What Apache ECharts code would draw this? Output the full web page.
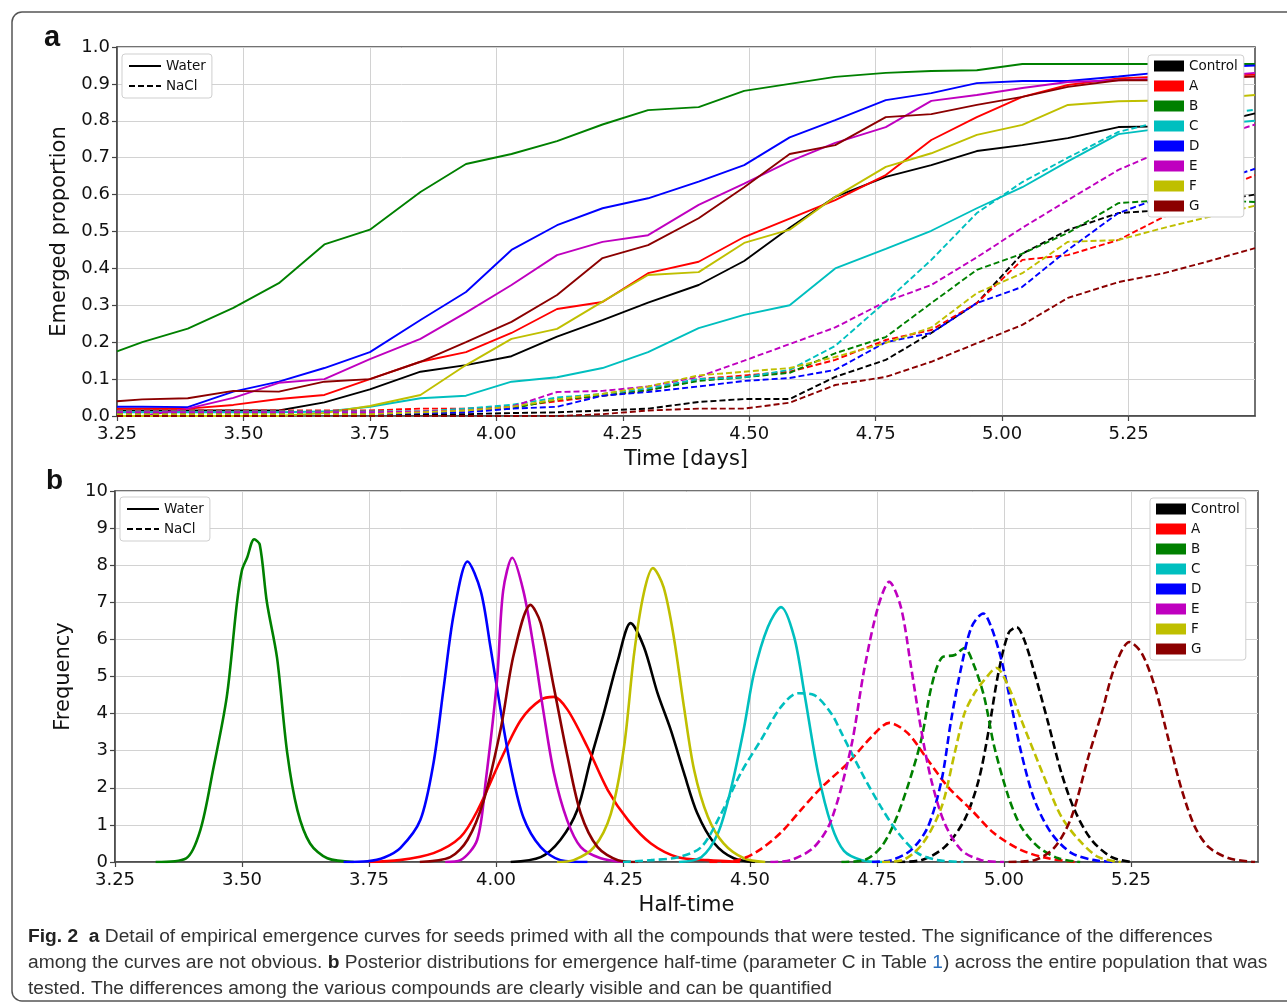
<!DOCTYPE html>
<html>
<head>
<meta charset="utf-8">
<script src="https://cdn.jsdelivr.net/npm/echarts@6/dist/echarts.min.js"></script>
<style>
html,body{margin:0;padding:0;background:#fff;}
#c{width:1287px;height:1004px;}
</style>
</head>
<body>
<div id="c"></div>
<script>
// ---------- shared ----------
const groupNames = ['Control', 'A', 'B', 'C', 'D', 'E', 'F', 'G'];
const groupColors = ['#000000', '#ff0000', '#008000', '#00bfbf', '#0000ff', '#bf00bf', '#bfbf00', '#8b0000'];
const xTicks = [3.25, 3.50, 3.75, 4.00, 4.25, 4.50, 4.75, 5.00, 5.25];

// ---------- panel a : empirical emergence curves ----------
const timeDays = [3.25, 3.30, 3.39, 3.48, 3.57, 3.66, 3.75, 3.85, 3.94, 4.03, 4.12, 4.21, 4.30, 4.40, 4.49, 4.58, 4.67, 4.77, 4.86, 4.95, 5.04, 5.13, 5.23, 5.32, 5.41, 5.50];

const emergedWaterControl = [0.015, 0.015, 0.015, 0.015, 0.015, 0.037, 0.072, 0.12, 0.138, 0.162, 0.215, 0.26, 0.307, 0.355, 0.42, 0.51, 0.594, 0.648, 0.68, 0.718, 0.734, 0.753, 0.783, 0.785, 0.79, 0.82];
const emergedWaterA = [0.02, 0.02, 0.02, 0.03, 0.046, 0.057, 0.10, 0.147, 0.173, 0.225, 0.29, 0.309, 0.387, 0.418, 0.485, 0.535, 0.585, 0.653, 0.748, 0.81, 0.865, 0.897, 0.915, 0.92, 0.92, 0.925];
const emergedWaterB = [0.175, 0.20, 0.237, 0.293, 0.36, 0.465, 0.505, 0.607, 0.683, 0.71, 0.745, 0.79, 0.829, 0.837, 0.881, 0.90, 0.919, 0.93, 0.935, 0.937, 0.954, 0.954, 0.954, 0.954, 0.954, 0.954];
const emergedWaterC = [0.01, 0.01, 0.01, 0.01, 0.01, 0.012, 0.025, 0.048, 0.055, 0.093, 0.105, 0.13, 0.173, 0.238, 0.274, 0.30, 0.40, 0.453, 0.502, 0.563, 0.62, 0.69, 0.764, 0.78, 0.79, 0.80];
const emergedWaterD = [0.025, 0.025, 0.024, 0.066, 0.093, 0.13, 0.173, 0.26, 0.336, 0.45, 0.517, 0.563, 0.59, 0.635, 0.68, 0.755, 0.802, 0.856, 0.875, 0.902, 0.908, 0.908, 0.92, 0.932, 0.945, 0.95];
const emergedWaterE = [0.0, 0.0, 0.02, 0.049, 0.09, 0.10, 0.154, 0.209, 0.28, 0.355, 0.436, 0.472, 0.49, 0.572, 0.63, 0.69, 0.74, 0.783, 0.854, 0.87, 0.889, 0.905, 0.91, 0.915, 0.92, 0.93];
const emergedWaterF = [0.0, 0.0, 0.0, 0.0, 0.0, 0.008, 0.027, 0.057, 0.138, 0.209, 0.236, 0.31, 0.382, 0.39, 0.469, 0.505, 0.594, 0.675, 0.712, 0.762, 0.789, 0.843, 0.853, 0.855, 0.86, 0.87];
const emergedWaterG = [0.04, 0.045, 0.048, 0.068, 0.066, 0.093, 0.10, 0.147, 0.20, 0.255, 0.328, 0.428, 0.463, 0.536, 0.62, 0.71, 0.734, 0.81, 0.818, 0.843, 0.865, 0.892, 0.91, 0.91, 0.915, 0.92];

const emergedNaClControl = [0.005, 0.005, 0.005, 0.005, 0.005, 0.005, 0.005, 0.005, 0.005, 0.008, 0.01, 0.015, 0.02, 0.038, 0.046, 0.046, 0.106, 0.152, 0.225, 0.306, 0.44, 0.504, 0.55, 0.558, 0.58, 0.60];
const emergedNaClA = [0.015, 0.015, 0.015, 0.015, 0.015, 0.015, 0.015, 0.02, 0.02, 0.025, 0.04, 0.055, 0.07, 0.10, 0.11, 0.12, 0.152, 0.206, 0.233, 0.306, 0.423, 0.436, 0.477, 0.54, 0.60, 0.653];
const emergedNaClB = [0.01, 0.01, 0.01, 0.01, 0.01, 0.01, 0.01, 0.012, 0.015, 0.02, 0.045, 0.055, 0.07, 0.095, 0.105, 0.117, 0.17, 0.214, 0.306, 0.396, 0.44, 0.496, 0.577, 0.585, 0.585, 0.58];
const emergedNaClC = [0.012, 0.012, 0.012, 0.012, 0.012, 0.012, 0.012, 0.012, 0.02, 0.03, 0.05, 0.06, 0.075, 0.10, 0.105, 0.125, 0.19, 0.31, 0.423, 0.55, 0.634, 0.70, 0.77, 0.80, 0.815, 0.83];
const emergedNaClD = [0.005, 0.005, 0.005, 0.005, 0.005, 0.005, 0.005, 0.008, 0.01, 0.02, 0.025, 0.055, 0.065, 0.08, 0.095, 0.103, 0.125, 0.20, 0.225, 0.306, 0.35, 0.45, 0.55, 0.595, 0.63, 0.67];
const emergedNaClE = [0.01, 0.01, 0.01, 0.01, 0.01, 0.01, 0.01, 0.012, 0.015, 0.025, 0.065, 0.068, 0.08, 0.106, 0.15, 0.195, 0.24, 0.31, 0.355, 0.43, 0.51, 0.585, 0.667, 0.72, 0.75, 0.79];
const emergedNaClF = [0.005, 0.005, 0.005, 0.005, 0.005, 0.005, 0.005, 0.01, 0.015, 0.025, 0.045, 0.06, 0.08, 0.11, 0.12, 0.13, 0.16, 0.198, 0.24, 0.333, 0.387, 0.472, 0.477, 0.51, 0.54, 0.57];
const emergedNaClG = [0.0, 0.0, 0.0, 0.0, 0.0, 0.0, 0.0, 0.0, 0.0, 0.0, 0.0, 0.005, 0.015, 0.02, 0.02, 0.036, 0.084, 0.106, 0.147, 0.197, 0.247, 0.32, 0.363, 0.387, 0.42, 0.455];

// ---------- panel b : posterior densities of half-time, [half-time, frequency] ----------
const halfWaterControl = [[4.029,0],[4.088,0.13],[4.127,0.6],[4.16,1.4],[4.186,2.75],[4.212,4.0],[4.24,5.44],[4.265,6.44],[4.291,5.8],[4.318,4.55],[4.344,3.56],[4.37,2.4],[4.396,1.32],[4.43,0.5],[4.468,0.1],[4.51,0]];
const halfWaterA = [[3.75,0],[3.81,0.05],[3.877,0.24],[3.93,0.67],[3.964,1.4],[4.009,2.75],[4.049,3.83],[4.088,4.37],[4.114,4.45],[4.141,4.1],[4.18,3.1],[4.22,1.94],[4.26,1.13],[4.305,0.5],[4.358,0.13],[4.417,0.05],[4.48,0]];
const halfWaterB = [[3.33,0],[3.39,0.1],[3.418,0.86],[3.443,2.48],[3.47,4.45],[3.49,6.98],[3.50,7.87],[3.51,8.2],[3.524,8.7],[3.535,8.55],[3.549,7.0],[3.569,5.5],[3.589,2.94],[3.609,1.4],[3.634,0.5],[3.668,0.1],[3.72,0]];
const halfWaterC = [[4.36,0],[4.404,0.13],[4.437,0.78],[4.463,2.0],[4.488,3.6],[4.508,5.1],[4.535,6.33],[4.561,6.87],[4.587,6.06],[4.607,4.55],[4.634,2.4],[4.66,1.0],[4.685,0.3],[4.72,0.05],[4.76,0]];
const halfWaterD = [[3.70,0],[3.747,0.02],[3.78,0.12],[3.812,0.38],[3.851,1.13],[3.877,2.67],[3.897,4.7],[3.917,6.7],[3.944,8.1],[3.97,7.3],[3.989,5.8],[4.009,4.1],[4.029,2.57],[4.054,1.2],[4.088,0.4],[4.127,0.05],[4.18,0]];
const halfWaterE = [[3.90,0],[3.93,0.05],[3.963,0.6],[3.98,2.2],[4.002,4.9],[4.014,7.3],[4.032,8.2],[4.054,7.3],[4.074,5.8],[4.094,4.0],[4.114,2.4],[4.14,1.13],[4.167,0.4],[4.206,0.1],[4.25,0]];
const halfWaterF = [[4.12,0],[4.153,0.05],[4.193,0.4],[4.226,1.3],[4.252,3.1],[4.272,5.63],[4.291,7.25],[4.309,7.92],[4.33,7.4],[4.35,6.06],[4.37,4.18],[4.39,2.48],[4.417,1.22],[4.448,0.5],[4.488,0.1],[4.53,0]];
const halfWaterG = [[3.85,0],[3.91,0.13],[3.944,0.6],[3.976,1.67],[4.01,3.64],[4.035,5.6],[4.068,6.93],[4.088,6.44],[4.114,4.7],[4.141,2.83],[4.167,1.3],[4.2,0.4],[4.24,0.05],[4.28,0]];

const halfNaClControl = [[4.79,0],[4.837,0.05],[4.883,0.4],[4.922,1.13],[4.95,2.2],[4.97,3.56],[4.989,5.1],[5.009,6.17],[5.025,6.33],[5.04,5.98],[5.06,5.1],[5.087,3.75],[5.113,2.4],[5.139,1.4],[5.172,0.6],[5.212,0.13],[5.25,0]];
const halfNaClA = [[4.42,0],[4.476,0.05],[4.516,0.3],[4.56,0.78],[4.6,1.4],[4.64,2.0],[4.693,2.67],[4.739,3.37],[4.774,3.75],[4.81,3.48],[4.85,2.75],[4.89,2.02],[4.936,1.4],[4.98,0.78],[5.034,0.32],[5.087,0.1],[5.14,0]];
const halfNaClB = [[4.68,0],[4.725,0.05],[4.758,0.4],[4.784,1.05],[4.81,2.02],[4.837,3.29],[4.857,4.72],[4.877,5.5],[4.903,5.58],[4.922,5.77],[4.942,5.26],[4.961,4.45],[4.981,3.1],[5.009,1.75],[5.034,0.94],[5.068,0.4],[5.107,0.1],[5.15,0]];
const halfNaClC = [[4.25,0],[4.305,0.05],[4.358,0.13],[4.404,0.4],[4.443,1.3],[4.482,2.4],[4.522,3.3],[4.561,4.18],[4.594,4.55],[4.626,4.5],[4.66,4.0],[4.68,3.48],[4.72,2.4],[4.758,1.48],[4.792,0.78],[4.83,0.24],[4.87,0.05],[4.92,0]];
const halfNaClD = [[4.74,0],[4.778,0.05],[4.817,0.32],[4.85,0.94],[4.877,2.2],[4.896,3.83],[4.916,5.26],[4.936,6.33],[4.959,6.7],[4.975,6.33],[4.995,5.44],[5.015,4.18],[5.034,2.94],[5.06,1.67],[5.093,0.78],[5.133,0.24],[5.178,0.05],[5.22,0]];
const halfNaClE = [[4.54,0],[4.58,0.05],[4.626,0.4],[4.66,1.13],[4.699,3.1],[4.725,5.2],[4.752,6.87],[4.774,7.55],[4.797,6.87],[4.817,5.26],[4.837,3.56],[4.857,2.2],[4.883,1.05],[4.916,0.32],[4.955,0.05],[5.0,0]];
const halfNaClF = [[4.76,0],[4.80,0.05],[4.84,0.5],[4.877,1.48],[4.903,2.94],[4.922,4.0],[4.942,4.55],[4.961,4.9],[4.985,5.23],[5.009,4.72],[5.034,3.83],[5.06,2.94],[5.087,2.02],[5.113,1.22],[5.147,0.6],[5.186,0.13],[5.23,0]];
const halfNaClG = [[5.009,0],[5.06,0.05],[5.1,0.4],[5.133,1.22],[5.166,2.83],[5.192,4.0],[5.218,5.26],[5.247,5.93],[5.271,5.63],[5.297,4.72],[5.324,3.29],[5.35,1.94],[5.376,0.94],[5.403,0.4],[5.443,0.1],[5.494,0]];

// ---------- build ----------
const emergedWater = [emergedWaterControl, emergedWaterA, emergedWaterB, emergedWaterC, emergedWaterD, emergedWaterE, emergedWaterF, emergedWaterG];
const emergedNaCl = [emergedNaClControl, emergedNaClA, emergedNaClB, emergedNaClC, emergedNaClD, emergedNaClE, emergedNaClF, emergedNaClG];
const halfWater = [halfWaterControl, halfWaterA, halfWaterB, halfWaterC, halfWaterD, halfWaterE, halfWaterF, halfWaterG];
const halfNaCl = [halfNaClControl, halfNaClA, halfNaClB, halfNaClC, halfNaClD, halfNaClE, halfNaClF, halfNaClG];

const FONT = 'DejaVu Sans';
const series = [];

function lineSeries(name, data, color, dashed, axisIdx, width, smooth, dash) {
  return {
    type: 'line', name: name, data: data,
    xAxisIndex: axisIdx, yAxisIndex: axisIdx,
    symbol: 'none', showSymbol: false,
    smooth: smooth,
    lineStyle: { color: color, width: width, type: dashed ? dash : 'solid' },
    itemStyle: { color: color },
    emphasis: { disabled: true },
    silent: true, animation: false
  };
}

groupNames.forEach((g, i) => {
  series.push(lineSeries(g, timeDays.map((t, k) => [t, emergedWater[i][k]]), groupColors[i], false, 0, 1.9, false));
});
groupNames.forEach((g, i) => {
  series.push(lineSeries(g + ' NaCl', timeDays.map((t, k) => [t, emergedNaCl[i][k]]), groupColors[i], true, 0, 1.9, false, [6, 3]));
});
groupNames.forEach((g, i) => {
  series.push(lineSeries(g + ' water b', halfWater[i], groupColors[i], false, 1, 2.6, 0.3));
});
groupNames.forEach((g, i) => {
  series.push(lineSeries(g + ' NaCl b', halfNaCl[i], groupColors[i], true, 1, 2.6, 0.3, [8, 4]));
});
// legend-only series for treatment line styles
series.push({ type: 'line', name: 'Water', data: [], xAxisIndex: 0, yAxisIndex: 0, symbol: 'none',
  lineStyle: { color: '#000', width: 2.2, type: 'solid' }, itemStyle: { color: 'rgba(0,0,0,0)' } });
series.push({ type: 'line', name: 'NaCl', data: [], xAxisIndex: 0, yAxisIndex: 0, symbol: 'none',
  lineStyle: { color: '#000', width: 2.2, type: [6, 3] }, itemStyle: { color: 'rgba(0,0,0,0)' } });

function xAxisOf(gridIndex, title) {
  return {
    type: 'value', gridIndex: gridIndex, min: 3.25, max: 5.5, interval: 0.25,
    axisLine: { show: true, onZero: false, lineStyle: { color: '#444', width: 1.5 } },
    axisTick: { show: true, length: 5, lineStyle: { color: '#444', width: 1.2 },
      customValues: xTicks },
    axisLabel: { show: true, fontSize: 18, fontFamily: FONT, color: '#111', margin: 9,
      customValues: xTicks, formatter: v => v.toFixed(2) },
    splitLine: { show: true, lineStyle: { color: '#d2d2d2', width: 1 } },
    name: title, nameLocation: 'middle', nameGap: 33,
    nameTextStyle: { fontSize: 21, fontFamily: FONT, color: '#111' }
  };
}
function yAxisOf(gridIndex, max, interval, digits, title, gap) {
  return {
    type: 'value', gridIndex: gridIndex, min: 0, max: max, interval: interval,
    axisLine: { show: true, onZero: false, lineStyle: { color: '#444', width: 1.5 } },
    axisTick: { show: true, length: 5, lineStyle: { color: '#444', width: 1.2 } },
    axisLabel: { fontSize: 18, fontFamily: FONT, color: '#111', margin: 7,
      formatter: v => v.toFixed(digits) },
    splitLine: { show: true, lineStyle: { color: '#d2d2d2', width: 1 } },
    name: title, nameLocation: 'middle', nameGap: gap,
    nameTextStyle: { fontSize: 21, fontFamily: FONT, color: '#111' }
  };
}

const legendBase = {
  orient: 'vertical', selectedMode: false, backgroundColor: '#fff',
  borderColor: '#cfcfcf', borderWidth: 1, borderRadius: 3,
  textStyle: { fontSize: 13.5, fontFamily: FONT, color: '#111', lineHeight: 14 }
};
function treatmentLegend(left, top) {
  return Object.assign({}, legendBase, {
    data: ['Water', 'NaCl'], left: left, top: top, itemWidth: 32, itemHeight: 12,
    itemGap: 6, padding: [5, 6, 5, 6], itemStyle: { opacity: 0 }
  });
}
function groupLegend(left, top) {
  return Object.assign({}, legendBase, {
    data: groupNames, left: left, top: top, icon: 'rect', itemWidth: 30, itemHeight: 11,
    itemGap: 6, padding: [4, 6, 4, 6]
  });
}

const CAP = 19.2;
const captionRich = {
  b: { fontWeight: 'bold', fontSize: CAP, fontFamily: 'Liberation Sans', fill: '#222' },
  l: { fontSize: CAP, fontFamily: 'Liberation Sans', fill: '#2a6ebb' }
};
function captionLine(y, text) {
  return { type: 'text', x: 28, y: y, silent: true,
    style: { text: text, fontSize: CAP, fontFamily: 'Liberation Sans', fill: '#333',
      verticalAlign: 'middle', rich: captionRich } };
}

const option = {
  animation: false,
  backgroundColor: '#fff',
  grid: [
    { left: 117, top: 47, right: 32, height: 369, show: true, borderColor: '#444', borderWidth: 1.5, backgroundColor: 'rgba(0,0,0,0)' },
    { left: 115, top: 491, right: 29, height: 371, show: true, borderColor: '#444', borderWidth: 1.5, backgroundColor: 'rgba(0,0,0,0)' }
  ],
  xAxis: [xAxisOf(0, 'Time [days]'), xAxisOf(1, 'Half-time')],
  yAxis: [yAxisOf(0, 1, 0.1, 1, 'Emerged proportion', 36), yAxisOf(1, 10, 1, 0, 'Frequency', 37)],
  legend: [treatmentLegend(122, 54), groupLegend(1148, 55), treatmentLegend(120, 497), groupLegend(1150, 498)],
  series: series,
  graphic: [
    { type: 'rect', silent: true, shape: { x: 12, y: 12, width: 1300, height: 989, r: 10 },
      style: { fill: 'none', stroke: '#555', lineWidth: 1.5 } },
    { type: 'text', x: 44, y: 38, silent: true,
      style: { text: 'a', fontSize: 29, fontWeight: 'bold', fontFamily: 'Liberation Sans', fill: '#111', verticalAlign: 'middle' } },
    { type: 'text', x: 46, y: 481, silent: true,
      style: { text: 'b', fontSize: 28, fontWeight: 'bold', fontFamily: 'Liberation Sans', fill: '#111', verticalAlign: 'middle' } },
    captionLine(937, '{b|Fig. 2}  {b|a} Detail of empirical emergence curves for seeds primed with all the compounds that were tested. The significance of the differences'),
    captionLine(963, 'among the curves are not obvious. {b|b} Posterior distributions for emergence half-time (parameter C in Table {l|1}) across the entire population that was'),
    captionLine(989, 'tested. The differences among the various compounds are clearly visible and can be quantified')
  ]
};

const chart = echarts.init(document.getElementById('c'), null, { renderer: 'canvas' });
chart.setOption(option);
</script>
</body>
</html>
